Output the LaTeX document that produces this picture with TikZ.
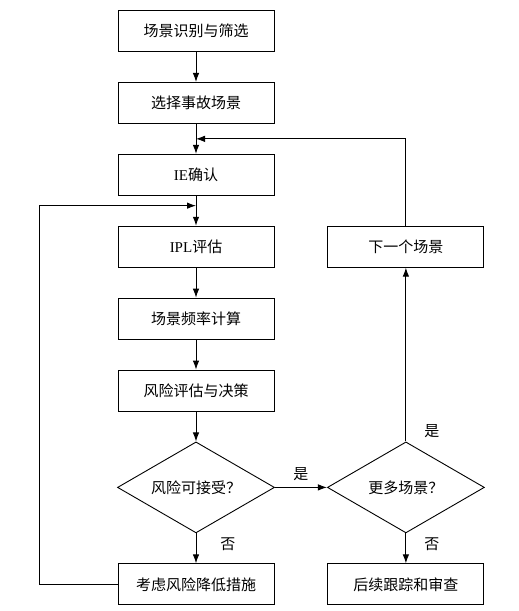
\documentclass[tikz,border=0pt]{standalone}
\usepackage{fontspec}
\setmainfont{Liberation Serif}
\newfontfamily\cjk{Noto Sans CJK SC}
\usetikzlibrary{positioning}
\usetikzlibrary{arrows.meta}
\usetikzlibrary{shapes.geometric}
\usetikzlibrary{calc}
\tikzset{
        flownode/.style={align=center,inner sep=0pt,font=\fontsize{15}{17}\selectfont\cjk},
        % Process boxes
        node_process/.style={flownode, rectangle, draw=black, fill=white, minimum width=156pt, minimum height=41pt},
        % Decision nodes
        node_decision/.style={flownode, diamond, aspect=1.725, draw=black, fill=white, minimum width=157pt, minimum height=91pt},
        % Yes / no labels
        node_answer/.style={flownode, inner sep=2pt}
}

\begin{document}
\begin{tikzpicture}[
            x=1pt, y=-1pt,
            line width=0.9pt,
            -{Latex[length=9pt,width=6.5pt]},
            node distance=30pt
        ]
            \useasboundingbox[fill=white] (0,0) rectangle (519,611);
            % main column
            \node[node_process] (identify) at (196,31) {场景识别与筛选};
            \node[node_process, below=of identify] (select) {选择事故场景};
            \node[node_process, below=of select] (ie) {{\rmfamily IE}确认};
            \node[node_process, below=of ie] (ipl) {{\rmfamily IPL}评估};
            \node[node_process, below=of ipl] (freq) {场景频率计算};
            \node[node_process, below=of freq] (assess) {风险评估与决策};
            \node[node_decision, below=30pt of assess] (accept) {风险可接受？};
            \node[node_process, below=30pt of accept] (reduce) {考虑风险降低措施};
            % right column
            \node[node_decision, right=52pt of accept] (more) {更多场景？};
            \node[node_process] (next) at (more |- ipl) {下一个场景};
            \node[node_process, below=30pt of more] (follow) {后续跟踪和审查};
            % joints of the loops
            \coordinate (joinnext) at ($(select.south)!0.5!(ie.north)$);
            \coordinate (joinreduce) at ($(ie.south)!0.33!(ipl.north)$);

            \draw (identify) -- (select);
            \draw (select) -- (ie);
            \draw (ie) -- (ipl);
            \draw (ipl) -- (freq);
            \draw (freq) -- (assess);
            \draw (assess) -- (accept);
            \draw (accept) -- node[node_answer, pos=0.35, right=22pt] {否} (reduce);
            \draw (accept) -- node[node_answer, midway, above=4pt] {是} (more);
            \draw (more) -- node[node_answer, pos=0.35, right=16pt] {否} (follow);
            \draw (more) -- node[node_answer, pos=0.06, right=16pt] {是} (next);
            \draw (next.north) |- (joinnext);
            \draw (reduce.west) -- ++(-78,0) |- (joinreduce);
        \end{tikzpicture}
\end{document}
